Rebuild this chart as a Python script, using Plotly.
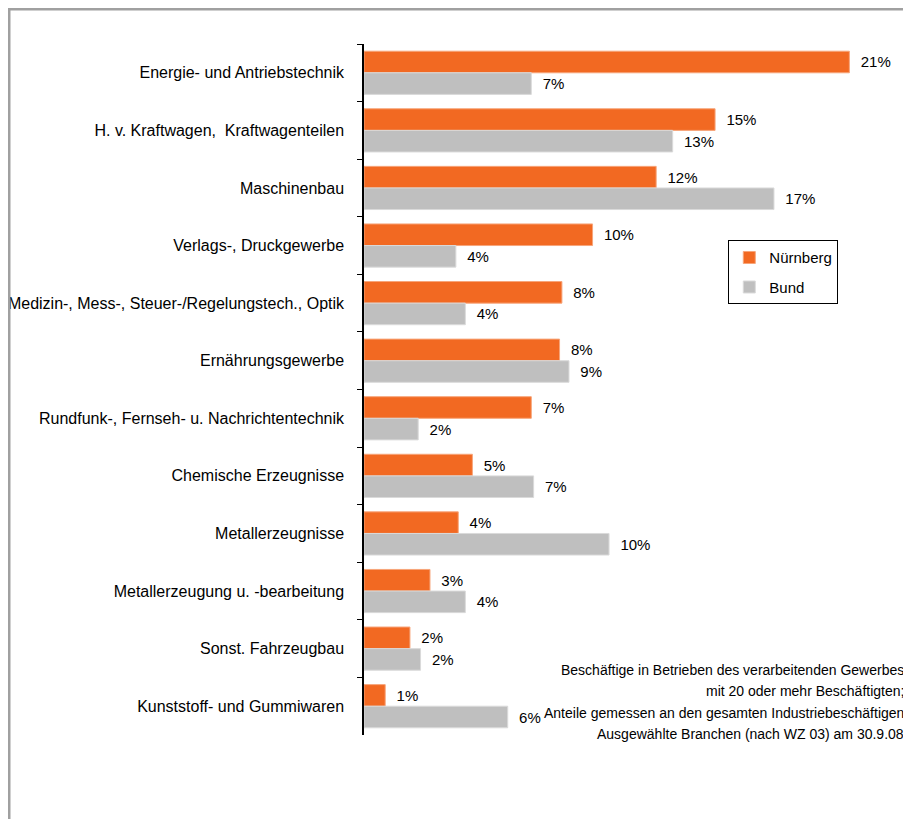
import plotly.graph_objs as go

nbg_color = "#F26922"
bund_color = "#BFBFBF"

branchen = [
    "Energie- und Antriebstechnik",
    "H. v. Kraftwagen,  Kraftwagenteilen",
    "Maschinenbau",
    "Verlags-, Druckgewerbe",
    "Medizin-, Mess-, Steuer-/Regelungstech., Optik",
    "Ernährungsgewerbe",
    "Rundfunk-, Fernseh- u. Nachrichtentechnik",
    "Chemische Erzeugnisse",
    "Metallerzeugnisse",
    "Metallerzeugung u. -bearbeitung",
    "Sonst. Fahrzeugbau",
    "Kunststoff- und Gummiwaren",
]
nuernberg = [0.206, 0.149, 0.124, 0.097, 0.084, 0.083, 0.071, 0.046, 0.040, 0.028, 0.0195, 0.009]
bund = [0.071, 0.131, 0.174, 0.039, 0.043, 0.087, 0.023, 0.072, 0.104, 0.043, 0.024, 0.061]

note_lines = [
    "Beschäftige in Betrieben des verarbeitenden Gewerbes",
    "mit 20 oder mehr Beschäftigten;",
    "Anteile gemessen an den gesamten Industriebeschäftigen",
    "Ausgewählte Branchen (nach WZ 03) am 30.9.08",
]
note_y = [0.094, 0.0635, 0.032, 0.0015]

fig = go.Figure()
fig.add_trace(
    go.Bar(
        y=branchen,
        x=nuernberg,
        orientation="h",
        name="Nürnberg",
        legendgroup="nbg",
        marker=dict(color=nbg_color, line=dict(color="#F7A57A", width=1)),
        texttemplate="\u00a0\u00a0%{x:.0%}",
        textposition="outside",
        textfont=dict(size=15, color="black"),
        cliponaxis=False,
    )
)
fig.add_trace(
    go.Bar(
        y=branchen,
        x=bund,
        orientation="h",
        name="Bund",
        legendgroup="bund",
        marker=dict(color=bund_color, line=dict(color="#DADADA", width=1)),
        texttemplate="\u00a0\u00a0%{x:.0%}",
        textposition="outside",
        textfont=dict(size=15, color="black"),
        cliponaxis=False,
    )
)

fig.update_xaxes(range=[0, 0.219], visible=False, showgrid=False)
fig.update_yaxes(
    autorange="reversed",
    automargin=False,
    showline=True,
    linecolor="black",
    linewidth=1.5,
    ticks="outside",
    tickson="boundaries",
    ticklen=5,
    tickcolor="black",
    ticklabelstandoff=15,
    tickfont=dict(size=16, color="black"),
    showgrid=False,
)

# grauer Rahmen
fig.add_shape(
    type="rect", xref="paper", yref="paper",
    x0=-0.688, x1=1.2, y0=-0.2, y1=1.0507,
    line=dict(color="#A0A0A0", width=3),
)

for line, yy in zip(note_lines, note_y):
    fig.add_annotation(
        text=line, xref="paper", yref="paper", x=1.05, y=yy,
        xanchor="right", yanchor="middle", align="right", showarrow=False,
        font=dict(size=14, color="black"),
    )

fig.update_layout(
    width=903,
    height=811,
    barmode="group",
    bargap=0.25,
    bargroupgap=0,
    plot_bgcolor="white",
    paper_bgcolor="white",
    font=dict(family="Liberation Sans, Arial, sans-serif", color="black"),
    margin=dict(l=356, r=31, t=36, b=84, autoexpand=False),
    legend=dict(
        x=0.706, y=0.716, xanchor="left", yanchor="top",
        bordercolor="black", borderwidth=1,
        font=dict(size=15, color="black"),
        itemwidth=30,
        traceorder="grouped",
        tracegroupgap=7,
    ),
)

fig.write_html("out.html")
